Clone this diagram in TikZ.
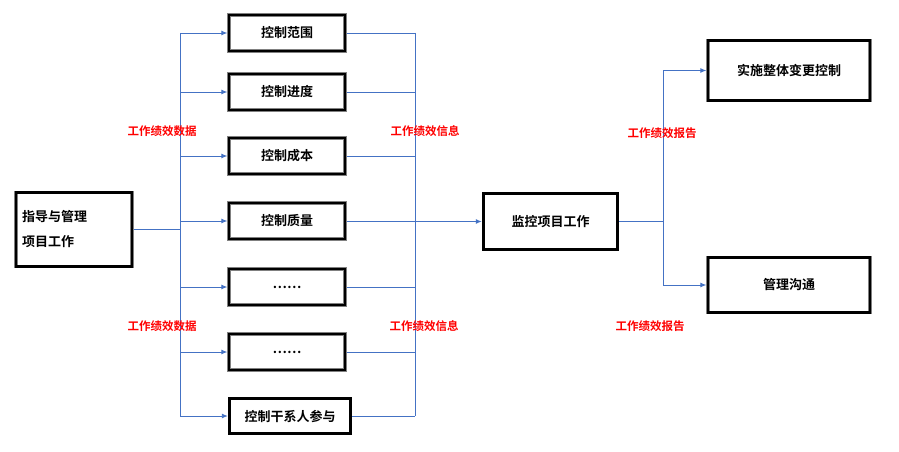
\documentclass[tikz,border=0pt]{standalone}
\usepackage{fontspec}
\newfontfamily\cjk{Noto Sans CJK SC}[BoldFont={Noto Sans CJK SC Bold}]
\usetikzlibrary{arrows.meta}
\definecolor{ln}{RGB}{68,114,196}
\begin{document}
\begin{tikzpicture}[x=1pt,y=-1pt,
  bx/.style={draw=gray,line width=3.4pt,inner sep=0pt,font=\cjk\bfseries\fontsize{13}{15}\selectfont,
    postaction={draw=black,line width=2.2pt}},
  lb/.style={text=red,font=\cjk\bfseries\fontsize{11.5}{13}\selectfont},
  ar/.style={ln,line width=0.9pt,-{Latex[length=6pt,width=5pt]}},
  cn/.style={ln,line width=0.9pt}]
\useasboundingbox (0,0) rectangle (899,452);
\fill[white] (0,0) rectangle (899,452);
\node[bx,minimum width=116,minimum height=74,align=left,text width=104] (dir) at (74,229.5)
 {指导与管理\\[10pt]项目工作};
\foreach \n/\y/\t in {a/33/控制范围,b/92/控制进度,c/156/控制成本,d/221/控制质量,e/287/……,f/352/……}
  \node[bx,minimum width=116,minimum height=36] (\n) at (287,\y) {\t};
\node[bx,minimum width=121,minimum height=35] (g) at (290,416) {控制干系人参与};
\node[bx,minimum width=134,minimum height=56] (mon) at (550.5,221.5) {监控项目工作};
\node[bx,minimum width=162,minimum height=60] (ic) at (789,70.5) {实施整体变更控制};
\node[bx,minimum width=162,minimum height=55] (mc) at (789,285) {管理沟通};
\coordinate (j1) at (180,229.5);
\draw[cn] (dir.east |- j1) -- (j1);
\draw[cn] (180,33) -- (180,416);
\foreach \n in {a,b,c,d,e,f,g} \draw[ar] (180,0 |- \n.west) -- (\n.west);
\draw[cn] (415,33) -- (415,416);
\foreach \n in {a,b,c,d,e,f,g} \draw[cn] (\n.east) -- (415,0 |- \n.east);
\draw[ar,line width=1.6pt] (415,221.5) -- (mon.west);
\coordinate (j2) at (663,221.5);
\draw[cn] (mon.east) -- (j2);
\draw[cn] (663,70.5) -- (663,285);
\draw[ar] (663,70.5) -- (ic.west);
\draw[ar] (663,285) -- (mc.west);
\node[lb] (l1) at (162,131) {工作绩效数据};
\node[lb] (l2) at (162,326) {工作绩效数据};
\node[lb] (l3) at (425,131) {工作绩效信息};
\node[lb] (l4) at (424,326) {工作绩效信息};
\node[lb] (l5) at (662,133) {工作绩效报告};
\node[lb] (l6) at (650,326) {工作绩效报告};
\end{tikzpicture}
\end{document}
